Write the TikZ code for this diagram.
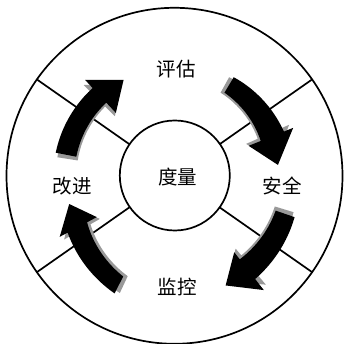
\documentclass[tikz,border=0pt]{standalone}
\usepackage{fontspec}
\newfontfamily\cjk{Noto Sans CJK SC}
\begin{document}
\begin{tikzpicture}[x=1pt,y=1pt,
  ring/.style={line width=1.7pt, draw=black},
  lbl/.style={font=\cjk\fontsize{19.5}{20}\selectfont, inner sep=0pt},
  shade/.style={fill=black!40},
  body/.style={fill=black}]
\useasboundingbox (-174.5,-168.2) rectangle (168.5,175.8);
% #1 tail angle, #2 head-base angle, #3 tip angle,
% #4/#5 tail inner/outer radius, #6/#7 head-base inner/outer radius, #8/#9 barb radii
\newcommand\ringarrow[9]{%
  plot[domain=#1:#2, samples=25] (\x:{#5+(#7-#5)*(\x-(#1))/((#2)-(#1))})
  -- (#2:#9) -- (#3:{(#8+#9)/2}) -- (#2:#8)
  -- plot[domain=#2:#1, samples=25] (\x:{#6+(#4-#6)*(\x-(#2))/((#1)-(#2))})
  -- cycle}
\draw[ring] (0,0) circle (168);
\node[ring, circle, minimum size=110pt, inner sep=0pt] (m) at (0.3,0.3) {};
\foreach \a in {35,145,215,325}
  \draw[ring] (\a:55) -- (\a:168);
% shadows
\begin{scope}[rotate=2, scale=0.98]
\fill[shade] \ringarrow{59}{22}{6}{97}{115}{93}{118}{80}{128};
\fill[shade] \ringarrow{-19}{-52}{-65}{107}{127}{106}{131}{97}{145};
\fill[shade] \ringarrow{243}{208}{195}{113}{132}{99}{121}{88}{130};
\fill[shade] \ringarrow{169}{133}{118}{100}{121}{100}{120}{86}{131};
\end{scope}
% arrows
\fill[body] \ringarrow{59}{22}{6}{97}{115}{93}{118}{80}{128};
\fill[body] \ringarrow{-19}{-52}{-65}{107}{127}{106}{131}{97}{145};
\fill[body] \ringarrow{243}{208}{195}{113}{132}{99}{121}{88}{130};
\fill[body] \ringarrow{169}{133}{118}{100}{121}{100}{120}{86}{131};
% labels
\node[lbl] (pg) at (1.8,106.8) {评估};
\node[lbl] (aq) at (107.7,-10) {安全};
\node[lbl] (jk) at (2.5,-110.9) {监控};
\node[lbl] (gj) at (-102.3,-10) {改进};
\node[lbl] (dl) at (3,-1.7) {度量};
\end{tikzpicture}
\end{document}
